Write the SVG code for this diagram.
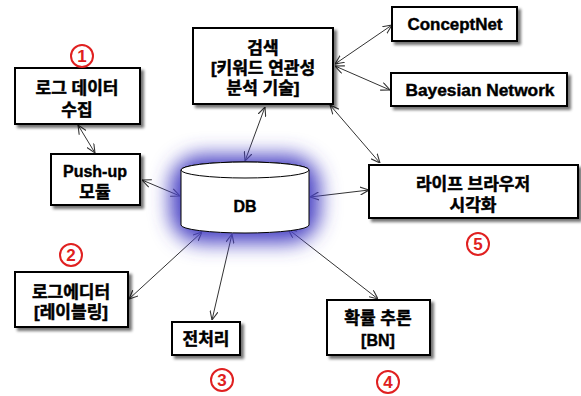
<svg xmlns="http://www.w3.org/2000/svg" width="581" height="396" viewBox="0 0 581 396">
<defs>
<style>
.box{fill:#fff;stroke:#000;stroke-width:2;filter:url(#sh)}
.t{font-family:"Liberation Sans","Noto Sans CJK KR",sans-serif;font-weight:bold;font-size:17px;fill:#000;stroke:#000;stroke-width:0.5;text-anchor:middle}
.e{font-family:"Liberation Sans","Noto Sans",sans-serif;font-weight:bold;font-size:16px;fill:#000;stroke:#000;stroke-width:0.4;text-anchor:middle}
.c{fill:none;stroke:#333;stroke-width:1;marker-start:url(#ah);marker-end:url(#ah)}
.num circle{fill:#fff;stroke:#e02020;stroke-width:2}
.num text{font-family:"Liberation Sans",sans-serif;font-weight:bold;font-size:17px;fill:#e02020;text-anchor:middle}
</style>
<marker id="ah" viewBox="0 0 10 10" refX="10" refY="5" markerWidth="9" markerHeight="9" markerUnits="userSpaceOnUse" orient="auto-start-reverse">
<path d="M0,0.5 L10,5 L0,9.5" fill="none" stroke="#333" stroke-width="1.2"/>
</marker>
<filter id="sh" x="-10%" y="-10%" width="130%" height="140%">
<feGaussianBlur in="SourceAlpha" stdDeviation="1.5"/>
<feOffset dx="3" dy="3" result="b"/>
<feComponentTransfer><feFuncA type="linear" slope="0.55"/></feComponentTransfer>
<feMerge><feMergeNode/><feMergeNode in="SourceGraphic"/></feMerge>
</filter>
<filter id="glow" x="-50%" y="-80%" width="200%" height="260%">
<feGaussianBlur stdDeviation="10"/>
</filter>
</defs>
<rect width="581" height="396" fill="#fff"/>

<g id="connectors">
<line class="c" x1="78" y1="125" x2="95" y2="153"/>
<line class="c" x1="142" y1="180" x2="180" y2="196"/>
<line class="c" x1="265" y1="107" x2="245" y2="161"/>
<line class="c" x1="335" y1="64" x2="392" y2="25"/>
<line class="c" x1="335" y1="66" x2="390" y2="90"/>
<line class="c" x1="330" y1="105" x2="380" y2="163"/>
<line class="c" x1="310" y1="197" x2="369" y2="190"/>
<line class="c" x1="202" y1="232" x2="129" y2="299"/>
<line class="c" x1="232" y1="234" x2="212" y2="320"/>
<line class="c" x1="288" y1="229" x2="378" y2="299"/>
</g>

<g id="db">
<rect x="170" y="155" width="150" height="88" rx="32" fill="#4a42c4" filter="url(#glow)"/>
<path d="M181,170 L181,225 A64,8 0 0 0 309,225 L309,170 A64,8 0 0 0 181,170 Z" fill="#fff" stroke="#000" stroke-width="1"/>
<ellipse cx="245" cy="170" rx="64" ry="8" fill="#fff" stroke="#000" stroke-width="1"/>
<text class="e" x="245" y="212" font-size="18">DB</text>
</g>

<g id="log-collect">
<rect class="box" x="15" y="68" width="125" height="56"/>
<text class="t" x="77" y="94">로그 데이터<tspan x="77" dy="22">수집</tspan></text>
</g>

<g id="pushup">
<rect class="box" x="51" y="154" width="89" height="51"/>
<text class="e" x="95" y="177" font-size="14">Push-up<tspan class="t" x="95" dy="21" font-size="17">모듈</tspan></text>
</g>

<g id="search">
<rect class="box" x="193" y="28" width="140" height="76"/>
<text class="t" x="263" y="54">검색<tspan x="263" dy="20">[키워드 연관성</tspan><tspan x="263" dy="20">분석 기술]</tspan></text>
</g>

<g id="conceptnet">
<rect class="box" x="392" y="7" width="125" height="34"/>
<text class="e" x="455" y="30" textLength="95" lengthAdjust="spacingAndGlyphs">ConceptNet</text>
</g>

<g id="bayesian">
<rect class="box" x="391" y="73" width="176" height="33"/>
<text class="e" x="480" y="96" textLength="149" lengthAdjust="spacingAndGlyphs">Bayesian Network</text>
</g>

<g id="lifebrowser">
<rect class="box" x="369" y="165" width="209" height="53"/>
<text class="t" x="473" y="190">라이프 브라우저<tspan x="473" dy="21">시각화</tspan></text>
</g>

<g id="logeditor">
<rect class="box" x="15" y="272" width="113" height="55"/>
<text class="t" x="71" y="298">로그에디터<tspan x="71" dy="20">[레이블링]</tspan></text>
</g>

<g id="preprocess">
<rect class="box" x="172" y="322" width="68" height="33"/>
<text class="t" x="206" y="345">전처리</text>
</g>

<g id="inference">
<rect class="box" x="327" y="300" width="103" height="55"/>
<text class="t" x="378" y="324">확률 추론<tspan class="e" x="378" dy="22" font-size="15">[BN]</tspan></text>
</g>

<g class="num">
<g id="n1"><circle cx="82" cy="56" r="11"/><text x="82" y="62">1</text></g>
<g id="n2"><circle cx="71" cy="255" r="11"/><text x="71" y="261">2</text></g>
<g id="n3"><circle cx="222" cy="380" r="11"/><text x="222" y="386">3</text></g>
<g id="n4"><circle cx="388" cy="382" r="11"/><text x="388" y="388">4</text></g>
<g id="n5"><circle cx="478" cy="244" r="11"/><text x="478" y="250">5</text></g>
</g>
</svg>
